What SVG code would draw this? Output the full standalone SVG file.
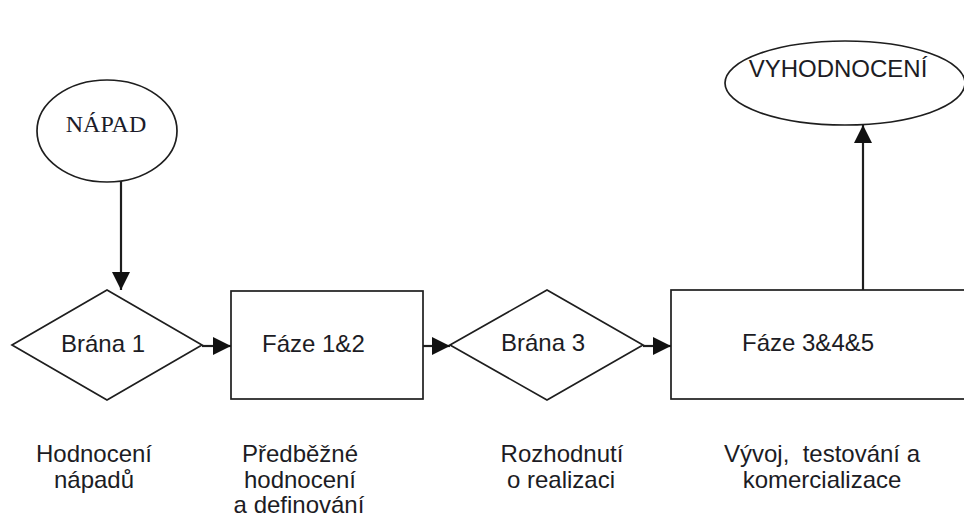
<svg xmlns="http://www.w3.org/2000/svg" width="964" height="518" viewBox="0 0 964 518">
  <style>
    .shape { fill: #ffffff; stroke: #1e1e1e; stroke-width: 1.7; }
    .conn { fill: none; stroke: #1e1e1e; stroke-width: 2.2; }
    .sans { font-family: "Liberation Sans", Arial, sans-serif; font-size: 24px; fill: #1c1c24; }
    .serif { font-family: "Liberation Serif", "Times New Roman", serif; font-size: 24px; fill: #1c1c2a; }
    .note { font-family: "Liberation Sans", Arial, sans-serif; font-size: 24px; fill: #1c1c24; text-anchor: middle; white-space: pre; }
  </style>
  <defs>
    <marker id="arrow" viewBox="0 0 10 10" refX="10" refY="5" markerUnits="userSpaceOnUse" markerWidth="19" markerHeight="18" orient="auto">
      <path d="M0,0 L10,5 L0,10 z" fill="#111111"/>
    </marker>
  </defs>
  <rect width="964" height="518" fill="#ffffff"/>

  <!-- connectors -->
  <g id="connectors">
    <line class="conn" x1="121" y1="181" x2="121" y2="290" marker-end="url(#arrow)"/>
    <line class="conn" x1="202" y1="346" x2="231" y2="346" marker-end="url(#arrow)"/>
    <line class="conn" x1="423" y1="346" x2="450" y2="346" marker-end="url(#arrow)"/>
    <line class="conn" x1="643" y1="346" x2="671" y2="346" marker-end="url(#arrow)"/>
    <line class="conn" x1="863" y1="290" x2="863" y2="125" marker-end="url(#arrow)"/>
  </g>

  <!-- start: idea -->
  <g id="napad">
    <ellipse class="shape" cx="107" cy="131" rx="70" ry="51"/>
    <text class="serif" x="106" y="132" text-anchor="middle">NÁPAD</text>
  </g>

  <!-- gate 1 -->
  <g id="brana1">
    <polygon class="shape" points="12,345 107,290 202,345 107,400"/>
    <text class="sans" x="103" y="352" text-anchor="middle">Brána 1</text>
  </g>

  <!-- phases 1 and 2 -->
  <g id="faze12">
    <rect class="shape" x="231" y="291" width="192" height="108"/>
    <text class="sans" x="262" y="352">Fáze 1&amp;2</text>
  </g>

  <!-- gate 3 -->
  <g id="brana3">
    <polygon class="shape" points="450,345 547,290 643,345 547,400"/>
    <text class="sans" x="543" y="351" text-anchor="middle">Brána 3</text>
  </g>

  <!-- phases 3, 4 and 5 -->
  <g id="faze345">
    <rect class="shape" x="671" y="290" width="310" height="109"/>
    <text class="sans" x="742" y="351">Fáze 3&amp;4&amp;5</text>
  </g>

  <!-- end: evaluation -->
  <g id="vyhodnoceni">
    <ellipse class="shape" cx="845" cy="83" rx="120" ry="42"/>
    <text class="sans" x="838" y="77" text-anchor="middle">VYHODNOCENÍ</text>
  </g>

  <!-- captions under each stage -->
  <g id="captions">
    <text class="note" x="94" y="462">Hodnocení</text>
    <text class="note" x="94" y="488">nápadů</text>
    <text class="note" x="300" y="462">Předběžné</text>
    <text class="note" x="300" y="488">hodnocení</text>
    <text class="note" x="299" y="513">a definování</text>
    <text class="note" x="562" y="462">Rozhodnutí</text>
    <text class="note" x="561" y="488">o realizaci</text>
    <text class="note" x="822" y="462">Vývoj,  testování a</text>
    <text class="note" x="822" y="488">komercializace</text>
  </g>
</svg>
